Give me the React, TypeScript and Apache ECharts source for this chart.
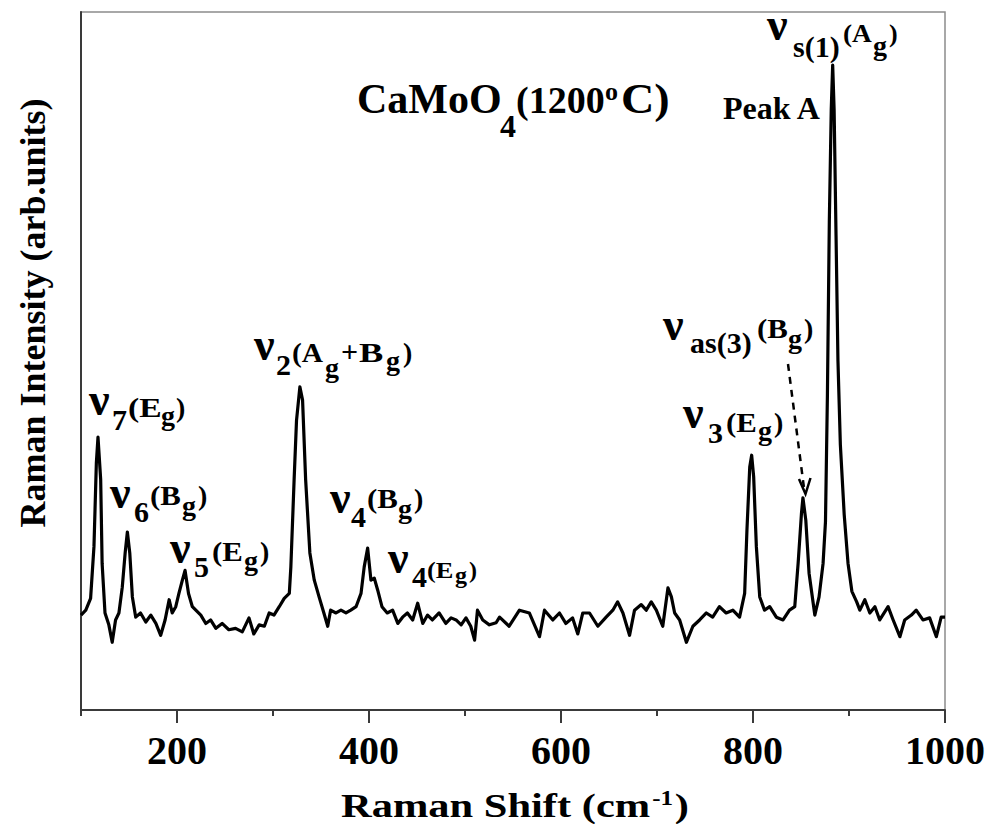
import React, { useEffect, useRef } from "react";
import * as echarts from "echarts";

// Raman shift (cm^-1) and intensity (arb. units)
const ramanShift = [
  100, 105, 110, 113.5, 116, 117.7, 120.5, 122, 125, 129, 132.5, 136, 139.5, 143, 146, 148.3, 150.8, 153.5, 157, 162,
  167.5, 172.7, 178, 183, 187.6, 191.8, 195, 198.7, 202, 205.6, 208.4, 212, 216, 219.6, 224.8, 230, 235, 240.5, 247, 254,
  261, 268, 275, 280, 285.6, 291, 296, 301, 306.5, 311.7, 317, 318.6, 322, 324.5, 328, 330.8, 334, 338.4, 343, 348,
  353, 357, 360, 365.6, 370.8, 376, 381, 386.5, 391.7, 395, 398.6, 402, 405.5, 409, 413.5, 419, 424.6, 430, 435, 440,
  445.5, 450.7, 456, 461, 466, 473, 480, 485.5, 490.7, 496, 501, 506, 510, 513, 518.5, 525.4, 532.4, 536, 546, 556.7,
  567, 577.6, 582.8, 591.5, 598.4, 605, 612, 617.5, 622.7, 629.7, 638.4, 647, 654, 659, 664.5, 671.4, 676.6, 683.6, 688.8, 694,
  699.3, 706, 711.4, 715, 718.4, 723.6, 730.6, 737.4, 744.4, 751.4, 758, 765, 772, 779, 786, 791.3, 793.7, 796.6, 798.6, 800.7,
  803.5, 807, 812, 817.4, 824.3, 831.3, 838, 843.5, 847, 850.5, 852, 855, 858.4, 864.4, 868.8, 873, 875.5, 877.5, 879.5, 881.5,
  883, 884.5, 886.5, 888.5, 891, 895, 899, 903, 908, 911.3, 916.5, 921.7, 927, 932, 940.7, 946, 953, 958, 965, 970,
  977, 984, 991, 996, 1000,
];
const intensity = [
  13.6, 14.3, 16.0, 23.4, 35.4, 39.1, 33.0, 21.0, 13.9, 12.2, 9.7, 12.9, 13.9, 17.6, 22.5, 25.5, 22.5, 16.2, 13.3, 13.9,
  12.6, 13.6, 12.4, 10.7, 12.9, 15.8, 13.9, 14.8, 16.7, 18.6, 20.0, 16.7, 14.8, 14.3, 13.6, 12.4, 12.9, 11.7, 12.4, 11.5,
  11.7, 11.2, 13.2, 10.9, 12.2, 12.0, 13.9, 13.6, 14.8, 16.0, 16.7, 20.5, 33.0, 41.5, 46.3, 44.4, 33.0, 22.5, 18.6, 16.2,
  13.9, 12.0, 14.3, 13.9, 14.3, 13.9, 14.3, 14.8, 16.7, 20.5, 23.2, 18.6, 18.9, 17.2, 14.8, 13.9, 14.3, 12.4, 13.3, 13.9,
  12.9, 15.3, 12.4, 13.6, 12.9, 13.9, 12.4, 13.2, 12.9, 12.2, 13.2, 12.0, 10.0, 14.3, 12.9, 12.2, 12.5, 13.3, 12.0, 14.3,
  13.9, 10.5, 14.3, 12.9, 13.9, 12.4, 13.2, 10.9, 13.9, 13.9, 12.0, 13.3, 14.3, 15.5, 13.9, 10.7, 14.3, 15.1, 14.3, 15.5,
  14.3, 12.0, 17.5, 16.2, 13.9, 12.9, 9.7, 12.0, 12.9, 13.9, 13.3, 14.8, 13.9, 14.3, 13.3, 16.7, 25.8, 34.8, 36.5, 33.4,
  23.4, 16.2, 14.3, 14.8, 13.3, 12.9, 14.3, 14.8, 21.0, 28.2, 30.4, 27.2, 19.6, 13.6, 16.2, 21.0, 27.0, 45.0, 70.0, 86.0,
  92.4, 86.0, 68.0, 50.0, 38.0, 28.0, 21.0, 17.0, 15.5, 14.3, 15.8, 13.9, 14.8, 12.9, 14.8, 12.9, 10.5, 12.9, 13.6, 14.3,
  12.9, 13.2, 10.5, 13.3, 13.3,
];

const majorTicks = [200, 400, 600, 800, 1000];
const xMin = 100;
const xMax = 1000;
const xStep = 100;
const yMin = 0;
const yMax = 100;

const FONT = "Liberation Serif, Times New Roman, Times, serif";

// Annotation text pieces: [text, left x, baseline y, font size, horizontal scale]
type Piece = [string, number, number, number, number?];
const annotationPieces: Piece[] = [
  // title
  ["CaMoO", 357, 113, 42],
  ["4", 500, 137, 32],
  ["(1200", 516, 113, 38],
  ["o", 605, 100, 26],
  ["C)", 621, 113, 42, 1.1],
  // Peak A
  ["Peak A", 723, 119, 32],
  // v7(Eg)
  ["ν", 89, 415, 46],
  ["7", 112, 430, 30],
  ["(E", 128, 417, 28, 1.2],
  ["g", 161, 425, 28],
  [")", 176, 417, 28],
  // v6(Bg)
  ["ν", 110, 508, 46],
  ["6", 134, 522, 30],
  ["(B", 150, 505, 28, 1.1],
  ["g", 182, 515, 28],
  [")", 198, 505, 28],
  // v5(Eg)
  ["ν", 170, 563, 46],
  ["5", 194, 577, 30],
  ["(E", 212, 561, 28, 1.1],
  ["g", 244, 570, 28],
  [")", 260, 561, 28],
  // v2(Ag+Bg)
  ["ν", 254, 360, 46],
  ["2", 276, 375, 30],
  ["(A", 292, 362, 28, 1.05],
  ["g", 325, 377, 28],
  ["+", 341, 362, 30],
  ["B", 359, 362, 28, 1.3],
  ["g", 386, 370, 28],
  [")", 403, 362, 28],
  // v4(Bg)
  ["ν", 330, 513, 46],
  ["4", 351, 527, 30],
  ["(B", 367, 508, 28, 1.1],
  ["g", 398, 518, 28],
  [")", 414, 508, 28],
  // v4(Eg)
  ["ν", 388, 573, 46],
  ["4", 412, 587, 30],
  ["(E", 427, 578, 24, 1.1],
  ["g", 455, 583, 24],
  [")", 469, 578, 24],
  // v3(Eg)
  ["ν", 683, 428, 46],
  ["3", 708, 443, 30],
  ["(E", 726, 432, 28, 1.1],
  ["g", 758, 440, 28],
  [")", 774, 432, 28],
  // vas(3)(Bg)
  ["ν", 663, 340, 46],
  ["as(3)", 690, 353, 30],
  ["(B", 757, 338, 28, 1.1],
  ["g", 788, 348, 28],
  [")", 804, 338, 28],
  // vs(1)(Ag)
  ["ν", 767, 40, 46],
  ["s(1)", 793, 57, 30],
  ["(A", 843, 42, 26, 1.05],
  ["g", 873, 55, 28],
  [")", 889, 42, 26],
];

// x-axis title pieces, relative to its group (scaled horizontally)
const xTitlePieces: Piece[] = [
  ["Raman Shift (cm", 0, 817, 34],
  ["-1", 249, 805, 20],
  [")", 267, 817, 34],
];

function textEl([t, x, b, s, sx]: Piece) {
  return {
    type: "text",
    x,
    y: b - 0.3375 * s,
    scaleX: sx ?? 1,
    silent: true,
    style: {
      text: t,
      font: `bold ${s}px ${FONT}`,
      fill: "#000",
      align: "left",
      verticalAlign: "middle",
    },
  };
}

function buildGraphics() {
  const els: any[] = annotationPieces.map(textEl);
  // dashed arrow pointing at vas(3)
  els.push({
    type: "line",
    silent: true,
    shape: { x1: 788, y1: 364, x2: 804, y2: 488 },
    style: { stroke: "#000", lineWidth: 2.5, lineDash: [7, 6] },
  });
  els.push({
    type: "polyline",
    silent: true,
    shape: { points: [[799, 479], [805.5, 494], [810.5, 478]] },
    style: { stroke: "#000", lineWidth: 2.5, fill: "none" },
  });
  // y-axis title
  els.push({
    type: "text",
    x: 33,
    y: 313,
    rotation: Math.PI / 2,
    silent: true,
    style: {
      text: "Raman Intensity (arb.units)",
      font: `bold 36px ${FONT}`,
      fill: "#000",
      align: "center",
      verticalAlign: "middle",
    },
  });
  // x-axis title with superscript
  els.push({
    type: "group",
    x: 341,
    y: 0,
    scaleX: 1.25,
    silent: true,
    children: xTitlePieces.map(textEl),
  });
  return els;
}

export default function App() {
  const ref = useRef<HTMLDivElement>(null);
  useEffect(() => {
    document.body.style.margin = "0";
    if (!ref.current) return;
    const chart = echarts.init(ref.current, undefined, { renderer: "svg" });
    const data = ramanShift.map((x, i) => [x, intensity[i]]);
    chart.setOption({
      animation: false,
      backgroundColor: "#fff",
      grid: {
        left: 81,
        right: 42,
        top: 12,
        bottom: 114,
        show: true,
        borderColor: "#8c8c8c",
        borderWidth: 1.5,
        backgroundColor: "transparent",
      },
      xAxis: [
        {
          type: "value",
          min: xMin,
          max: xMax,
          interval: xStep,
          position: "bottom",
          axisLine: { show: true, onZero: false, lineStyle: { color: "#3a3a3a", width: 2 } },
          axisTick: { show: true, length: 6, lineStyle: { color: "#3a3a3a", width: 2 } },
          axisLabel: { show: false },
          splitLine: { show: false },
        },
        {
          type: "value",
          min: xMin,
          max: xMax,
          interval: xStep,
          position: "bottom",
          axisLine: { show: false },
          axisTick: {
            show: true,
            length: 13,
            customValues: majorTicks,
            lineStyle: { color: "#3a3a3a", width: 2 },
          },
          axisLabel: {
            show: true,
            customValues: majorTicks,
            formatter: (v: number) => String(v),
            margin: 20,
            color: "#000",
            fontSize: 40,
            fontWeight: "bold",
            fontFamily: FONT,
            showMinLabel: true,
            showMaxLabel: true,
          },
          splitLine: { show: false },
        },
      ],
      yAxis: {
        type: "value",
        min: yMin,
        max: yMax,
        axisLine: { show: true, lineStyle: { color: "#3a3a3a", width: 2 } },
        axisTick: { show: false },
        axisLabel: { show: false },
        splitLine: { show: false },
      },
      series: [
        {
          type: "line",
          xAxisIndex: 0,
          data,
          showSymbol: false,
          symbol: "none",
          lineStyle: { color: "#000", width: 3.2, join: "round" },
          silent: true,
        },
      ],
      graphic: buildGraphics(),
    });
    return () => chart.dispose();
  }, []);
  return <div ref={ref} style={{ width: 988, height: 824 }} />;
}
